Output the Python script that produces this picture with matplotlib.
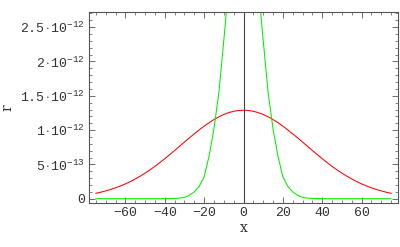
import numpy as np
import matplotlib
matplotlib.use("Agg")
import matplotlib.pyplot as plt
from matplotlib.ticker import FixedLocator, MultipleLocator

# values (r in units of 1e-12), right half, mirrored
x_half = [0, 2.5, 5, 7.5, 10, 12.5, 15, 17.5, 20, 22.5, 25, 27.5, 30, 32.5, 35,
          37.5, 40, 42.5, 45, 47.5, 50, 52.5, 55, 57.5, 60, 62.5, 65, 67.5, 70, 72.5, 75]
red_half = [1.29, 1.286, 1.274, 1.255, 1.228, 1.194, 1.154, 1.108, 1.058, 1.003, 0.946,
            0.887, 0.826, 0.764, 0.703, 0.642, 0.583, 0.527, 0.472, 0.421, 0.373, 0.329,
            0.288, 0.25, 0.216, 0.186, 0.159, 0.135, 0.114, 0.095, 0.079]
green_half = [4.7, 4.5, 3.9, 3.1, 2.31, 1.55, 1.02, 0.62, 0.32, 0.18, 0.10, 0.05,
              0.02, 0.009, 0.004, 0.002, 0.001, 0, 0, 0, 0, 0, 0, 0,
              0, 0, 0, 0, 0, 0, 0]

x = np.concatenate([-np.array(x_half[:0:-1]), x_half])
red = np.concatenate([red_half[:0:-1], red_half]) * 1e-12
green = np.concatenate([green_half[:0:-1], green_half]) * 1e-12

x_ticks = [-60, -40, -20, 0, 20, 40, 60]
y_ticks = [0, 5e-13, 1e-12, 1.5e-12, 2e-12, 2.5e-12]
y_labels = ["0", r"$5\cdot10^{-13}$", r"$1\cdot10^{-12}$", r"$1.5\cdot10^{-12}$",
            r"$2\cdot10^{-12}$", r"$2.5\cdot10^{-12}$"]

plt.rcParams["font.family"] = "Liberation Mono"
plt.rcParams["mathtext.fontset"] = "custom"
plt.rcParams["mathtext.rm"] = "Liberation Mono"
plt.rcParams["mathtext.it"] = "Liberation Mono"

fig = plt.figure(figsize=(4, 2.47), dpi=100)
ax = fig.add_axes([0.2225, 0.178, 0.7725, 0.773])

ax.plot(x, red, color="#ff0000", lw=0.75)
ax.plot(x, green, color="#00ee00", lw=0.75)
ax.axvline(0, color="#444444", lw=0.8)

ax.set_xlim(-78.5, 78.5)
ax.set_ylim(-0.063e-12, 2.72e-12)
ax.xaxis.set_major_locator(FixedLocator(x_ticks))
ax.xaxis.set_minor_locator(MultipleLocator(5))
ax.yaxis.set_major_locator(FixedLocator(y_ticks))
ax.yaxis.set_minor_locator(MultipleLocator(1e-13))
ax.set_xticklabels([str(t).replace("-", "\u2212") for t in x_ticks])
ax.set_yticklabels(y_labels)

ax.tick_params(which="both", direction="in", top=True, right=True,
               color="#555555", labelsize=9.5, labelcolor="#333333", pad=3)
ax.tick_params(which="major", length=4, width=0.6)
ax.tick_params(which="minor", length=2, width=0.5)
for s in ax.spines.values():
    s.set_color("#555555")
    s.set_linewidth(0.8)

ax.set_xlabel("x", fontsize=10, color="#333333", labelpad=1, family="DejaVu Serif")
ax.set_ylabel("r", fontsize=10, color="#333333", labelpad=4, family="DejaVu Serif")

fig.savefig("out.png", dpi=100)
